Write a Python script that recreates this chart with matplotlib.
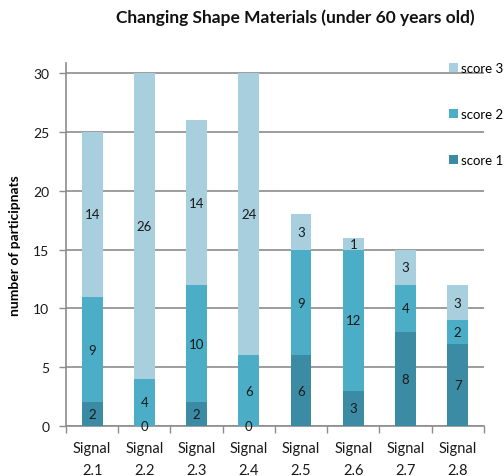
import matplotlib
matplotlib.use("Agg")
import matplotlib.pyplot as plt
import numpy as np

plt.rcParams['font.family'] = ['Lato', 'DejaVu Sans']

categories = ["Signal\n2.1", "Signal\n2.2", "Signal\n2.3", "Signal\n2.4",
              "Signal\n2.5", "Signal\n2.6", "Signal\n2.7", "Signal\n2.8"]
score1 = [2, 0, 2, 0, 6, 3, 8, 7]
score2 = [9, 4, 10, 6, 9, 12, 4, 2]
score3 = [14, 26, 14, 24, 3, 1, 3, 3]
series_names = ["score 1", "score 2", "score 3"]
colors = ["#3A8BA3", "#4BADC6", "#A8CFDE"]

fig = plt.figure(figsize=(5.04, 4.77), dpi=100)
ax = fig.add_axes([0.131, 0.105, 0.829, 0.761])

x = np.arange(len(categories))
width = 0.4
bottom = np.zeros(len(categories))
handles = []
for vals, name, col in zip([score1, score2, score3], series_names, colors):
    vals = np.array(vals, dtype=float)
    b = ax.bar(x, vals, width, bottom=bottom, color=col, label=name, zorder=3)
    handles.append(b)
    for xi, v, bt in zip(x, vals, bottom):
        ax.text(xi, bt + v / 2, f"{int(v)}", ha="center", va="center",
                fontsize=9.5, color="#1a1a1a", zorder=4)
    bottom += vals

ax.set_xlim(-0.5, len(categories) - 0.5)
ax.set_ylim(0, 30.9)
ax.set_yticks(np.arange(0, 31, 5))
ax.yaxis.grid(True, color="#8c8c8c", linewidth=1.2, zorder=0)
ax.set_axisbelow(True)

ax.set_xticks(x)
ax.set_xticklabels(categories, fontsize=10.5, color="#1a1a1a", linespacing=1.7)
ax.set_xticks(np.arange(-0.5, len(categories), 1), minor=True)
ax.tick_params(axis="x", which="major", length=0, pad=11)
ax.tick_params(axis="x", which="minor", length=5, color="#8c8c8c", width=1)
ax.tick_params(axis="y", length=5, color="#8c8c8c", width=1, labelsize=10,
               labelcolor="#1a1a1a", pad=7)

for s in ["top", "right"]:
    ax.spines[s].set_visible(False)
for s in ["left", "bottom"]:
    ax.spines[s].set_color("#8c8c8c")
    ax.spines[s].set_linewidth(1.2)

ax.set_ylabel("number of participnats", fontsize=10, fontweight="bold", labelpad=9)

fig.text(0.585, 0.962, "Changing Shape Materials (under 60 years old)",
         ha="center", va="center", fontsize=12.5, fontweight="bold", color="#111111")

leg = fig.legend(handles[::-1], series_names[::-1], loc="upper left",
                 bbox_to_anchor=(0.880, 0.878), frameon=False, fontsize=9.5,
                 handlelength=0.7, handleheight=0.7, handletextpad=0.25,
                 labelspacing=2.55, borderaxespad=0)

fig.savefig("out.png", dpi=100)
